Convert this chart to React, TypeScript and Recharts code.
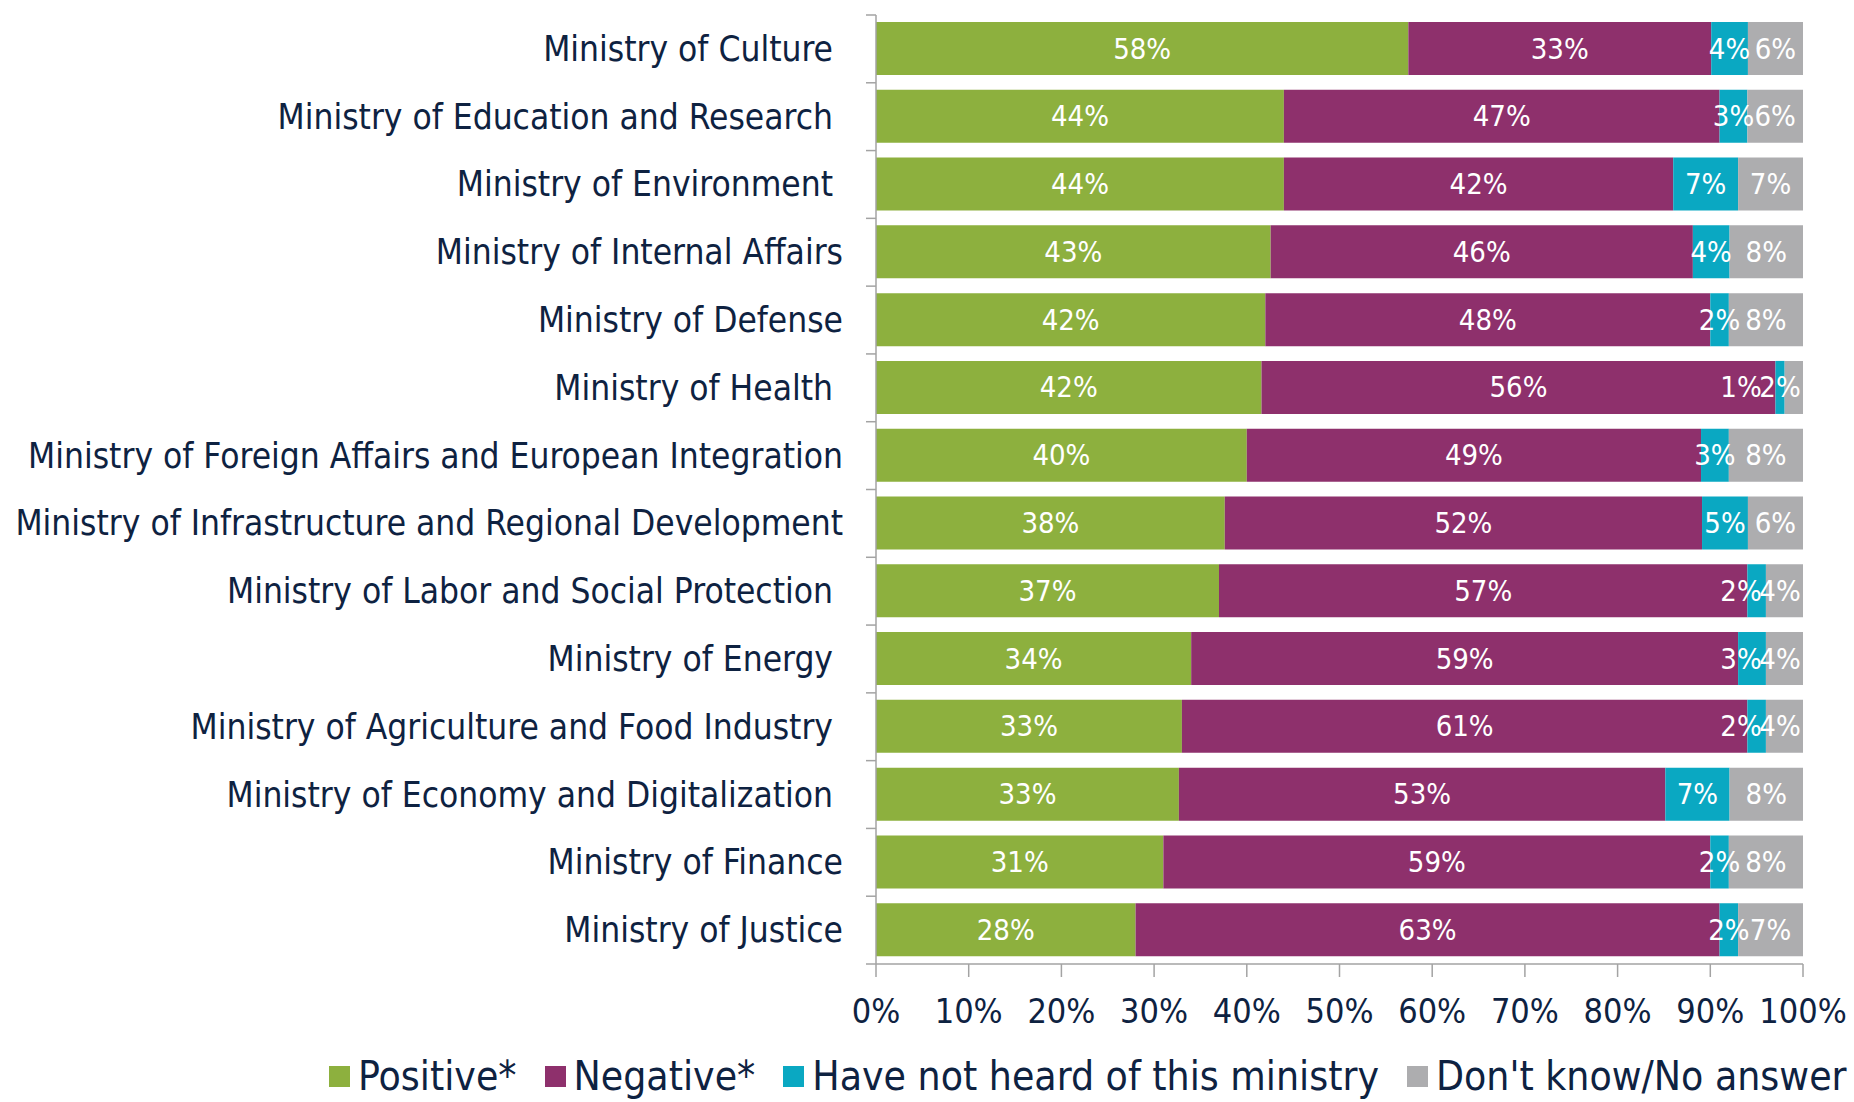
import React from 'react';
import { BarChart, Bar, XAxis, YAxis, LabelList } from 'recharts';

// survey: perception of ministries, share of respondents (row labels keep the
// trailing space that some of the original labels have)
const ministries = [
  'Ministry of Culture\u00A0',
  'Ministry of Education and Research\u00A0',
  'Ministry of Environment\u00A0',
  'Ministry of Internal Affairs',
  'Ministry of Defense',
  'Ministry of Health\u00A0',
  'Ministry of Foreign Affairs and European Integration',
  'Ministry of Infrastructure and Regional Development',
  'Ministry of Labor and Social Protection\u00A0',
  'Ministry of Energy\u00A0',
  'Ministry of Agriculture and Food Industry\u00A0',
  'Ministry of Economy and Digitalization\u00A0',
  'Ministry of Finance',
  'Ministry of Justice',
];
const positive = [58, 44, 44, 43, 42, 42, 40, 38, 37, 34, 33, 33, 31, 28];
const negative = [33, 47, 42, 46, 48, 56, 49, 52, 57, 59, 61, 53, 59, 63];
const notHeard = [4, 3, 7, 4, 2, 1, 3, 5, 2, 3, 2, 7, 2, 2];
const dontKnow = [6, 6, 7, 8, 8, 2, 8, 6, 4, 4, 4, 8, 8, 7];
const xTicks = [0, 0.1, 0.2, 0.3, 0.4, 0.5, 0.6, 0.7, 0.8, 0.9, 1];

const SERIES = [
  { key: 'positive', name: 'Positive*', color: '#8DB03E' },
  { key: 'negative', name: 'Negative*', color: '#8E306C' },
  { key: 'notHeard', name: 'Have not heard of this ministry', color: '#0AA8C2' },
  { key: 'dontKnow', name: "Don't know/No answer", color: '#ADADAF' },
];

const data = ministries.map((name, i) => ({
  name,
  positive: positive[i],
  negative: negative[i],
  notHeard: notHeard[i],
  dontKnow: dontKnow[i],
}));

const W = 1854;
const H = 1102;
const MARGIN = { top: 15, right: 51, bottom: 0, left: 0 };
const X_AXIS_H = 138;
const Y_AXIS_W = 876;
const PLOT_W = W - Y_AXIS_W - MARGIN.right;
const BAND = (H - MARGIN.top - MARGIN.bottom - X_AXIS_H) / ministries.length;

const NAVY = '#0E2241';
const AXIS = '#A3A3A3';
const FONT = '"DejaVu Sans Condensed", "Liberation Sans", Arial, sans-serif';
const LABEL_SIZE = 29;
const HALF_LABEL = 19;

const CategoryTick = (props: any) => {
  const { x, y, payload, index } = props;
  const half = BAND / 2;
  return (
    <g>
      <line x1={x - 10} x2={x} y1={y - half} y2={y - half} stroke={AXIS} strokeWidth={1.5} />
      {index === ministries.length - 1 && (
        <line x1={x - 10} x2={x} y1={y + half} y2={y + half} stroke={AXIS} strokeWidth={1.5} />
      )}
      <text x={x - 33} y={y} textAnchor="end" dominantBaseline="central" fontSize={35} fill={NAVY}>
        {payload.value}
      </text>
    </g>
  );
};

// centre of the last (grey) label, kept inside the bar end
const greyCentre = (start: number, w: number) => Math.min(start + w / 2, start + w - HALF_LABEL - 4);

const makeLabel = (key: string) => (props: any) => {
  const { x, y, width, height, value, index } = props;
  let cx = x + width / 2;
  if (key === 'dontKnow') cx = greyCentre(x, width);
  if (key === 'notHeard') {
    // push the small label left so it does not run into the grey one
    const i = index ?? 0;
    const total = positive[i] + negative[i] + notHeard[i] + dontKnow[i];
    const gw = (dontKnow[i] / total) * PLOT_W;
    const gStart = greyCentre(x + width, gw) - HALF_LABEL;
    cx = Math.min(cx, gStart - HALF_LABEL - 1);
  }
  return (
    <text
      x={cx}
      y={y + height / 2}
      textAnchor="middle"
      dominantBaseline="central"
      fill="#ffffff"
      fontSize={LABEL_SIZE}
    >
      {value}%
    </text>
  );
};

export default function App() {
  return (
    <div style={{ position: 'absolute', left: 0, top: 0, width: W, height: H, fontFamily: FONT, background: '#fff', overflow: 'hidden' }}>
      <BarChart
        width={W}
        height={H}
        data={data}
        layout="vertical"
        stackOffset="expand"
        margin={MARGIN}
        barSize={53}
      >
        <XAxis
          type="number"
          domain={[0, 1]}
          ticks={xTicks}
          height={X_AXIS_H}
          stroke={AXIS}
          strokeWidth={1.5}
          tickSize={13}
          tickMargin={22}
          tick={{ fill: NAVY, fontSize: 34 }}
          tickFormatter={(v: number) => `${Math.round(v * 100)}%`}
          interval={0}
        />
        <YAxis
          type="category"
          dataKey="name"
          width={Y_AXIS_W}
          stroke={AXIS}
          strokeWidth={1.5}
          tickLine={false}
          tickSize={0}
          tickMargin={0}
          tick={<CategoryTick />}
          interval={0}
        />
        {SERIES.map((s) => (
          <Bar key={s.key} dataKey={s.key} name={s.name} stackId="a" fill={s.color} isAnimationActive={false}>
            <LabelList dataKey={s.key} content={makeLabel(s.key)} />
          </Bar>
        ))}
      </BarChart>
      <div
        style={{
          position: 'absolute',
          left: 329,
          top: 1054,
          display: 'flex',
          alignItems: 'center',
          gap: 28,
          fontSize: 40.5,
          color: NAVY,
          whiteSpace: 'nowrap',
          lineHeight: '44px',
        }}
      >
        {SERIES.map((s) => (
          <div key={s.key} style={{ display: 'flex', alignItems: 'center', gap: 8 }}>
            <span style={{ display: 'inline-block', width: 21, height: 21, background: s.color }} />
            <span>{s.name}</span>
          </div>
        ))}
      </div>
    </div>
  );
}
